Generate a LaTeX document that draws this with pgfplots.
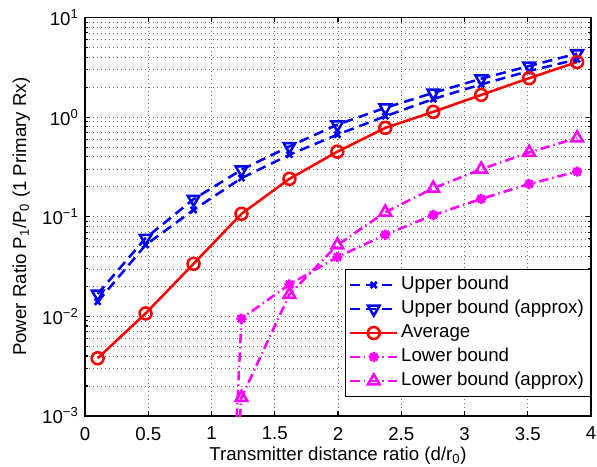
\documentclass[border=0pt]{standalone}
\usepackage{fontspec}
\setmainfont{Liberation Sans}
\usepackage{pgfplots}
\pgfplotsset{compat=1.18}

\definecolor{mblue}{rgb}{0,0,1}
\definecolor{mred}{rgb}{1,0,0}
\definecolor{mmag}{rgb}{1,0,1}

% matlab's '*' marker: a plus and a cross on top of each other
\pgfdeclareplotmark{mstar}{%
  \pgfpathmoveto{\pgfqpoint{-\pgfplotmarksize}{0pt}}%
  \pgfpathlineto{\pgfqpoint{\pgfplotmarksize}{0pt}}%
  \pgfpathmoveto{\pgfqpoint{0pt}{-\pgfplotmarksize}}%
  \pgfpathlineto{\pgfqpoint{0pt}{\pgfplotmarksize}}%
  \pgfpathmoveto{\pgfqpoint{-.707\pgfplotmarksize}{-.707\pgfplotmarksize}}%
  \pgfpathlineto{\pgfqpoint{.707\pgfplotmarksize}{.707\pgfplotmarksize}}%
  \pgfpathmoveto{\pgfqpoint{-.707\pgfplotmarksize}{.707\pgfplotmarksize}}%
  \pgfpathlineto{\pgfqpoint{.707\pgfplotmarksize}{-.707\pgfplotmarksize}}%
  \pgfusepathqstroke}

\begin{document}
\fontsize{14}{17}\selectfont
\begin{tikzpicture}
% page = 597 x 467 px at 0.75pt per px; axis box from (85,17.5) to (591,416)
\path[use as bounding box] (-63.75pt,-38.25pt) rectangle (384pt,312pt);
\begin{axis}[
    at={(0pt,0pt)}, anchor=south west,
    scale only axis, width=379.5pt, height=298.9pt,
    xmin=0, xmax=4,
    ymode=log, ymin=1e-3, ymax=10,
    xtick={0,0.5,1,1.5,2,2.5,3,3.5,4},
    xticklabels={0,0.5,1,1.5,2,2.5,3,3.5,4},
    ytick={0.001,0.01,0.1,1,10},
    yticklabels={10\textsuperscript{−3},10\textsuperscript{−2},10\textsuperscript{−1},10\textsuperscript{0},10\textsuperscript{1}},
    minor ytick={0.002,0.003,0.004,0.005,0.006,0.007,0.008,0.009,
                 0.02,0.03,0.04,0.05,0.06,0.07,0.08,0.09,
                 0.2,0.3,0.4,0.5,0.6,0.7,0.8,0.9,
                 2,3,4,5,6,7,8,9},
    grid=both,
    major grid style={black!60, line width=0.5pt, dash pattern=on 0.75pt off 2.25pt},
    minor grid style={black!60, line width=0.5pt, dash pattern=on 0.75pt off 2.25pt},
    axis line style={black, line width=1pt},
    tick style={black, line width=0.8pt},
    major tick length=3.75pt, minor tick length=2.2pt,
    xticklabel style={yshift=-3.5pt},
    xlabel={Transmitter distance ratio (d/r\textsubscript{0})},
    xlabel style={at={(axis description cs:0.5,-0.112)}, anchor=base},
    ylabel={Power Ratio P\textsubscript{1}/P\textsubscript{0} (1 Primary Rx)},
    ylabel style={at={(axis description cs:-0.1166,0.5)}, anchor=base, rotate=0},
    every axis plot/.append style={line width=1.9pt},
    legend style={at={(axis description cs:1,0.048)}, anchor=south east,
      draw=black, line width=0.8pt, fill=white,
      inner xsep=3pt, inner ysep=2.5pt, row sep=0pt,
      nodes={inner xsep=2pt, inner ysep=2pt, text height=10.5pt, text depth=3.5pt},
      /tikz/every even column/.append style={column sep=0.5pt}},
    legend cell align=left,
    legend image code/.code={%
      \draw[mark repeat=2, mark phase=2, #1]
        plot coordinates {(0pt,0pt) (17.6pt,0pt) (35.2pt,0pt)};},
  ]

  % upper bound
  \addplot[mblue, dash pattern=on 7.5pt off 4.5pt, mark=x, mark size=3.2pt, mark options={solid}]
    coordinates {(0.1,0.0140) (0.479,0.052) (0.858,0.117) (1.237,0.244) (1.616,0.419)
                 (1.995,0.667) (2.374,1.02) (2.753,1.52) (3.132,2.13) (3.511,2.90) (3.89,3.80)};
  % upper bound (approx)
  \addplot[mblue, dash pattern=on 7.5pt off 4.5pt, mark=triangle, mark size=5pt, mark options={solid, rotate=180}]
    coordinates {(0.1,0.0168) (0.479,0.061) (0.858,0.150) (1.237,0.296) (1.616,0.508)
                 (1.995,0.84) (2.374,1.24) (2.753,1.75) (3.132,2.43) (3.511,3.26) (3.89,4.34)};
  % average
  \addplot[mred, solid, mark=o, mark size=4.5pt]
    coordinates {(0.1,0.0038) (0.479,0.0107) (0.858,0.0337) (1.237,0.107) (1.616,0.24)
                 (1.995,0.45) (2.374,0.78) (2.753,1.13) (3.132,1.67) (3.511,2.46) (3.89,3.57)};
  % lower bound (first point is off the bottom of the axis)
  \addplot[mmag, dash pattern=on 7pt off 3pt on 1pt off 3pt, mark=mstar, mark size=3.8pt, mark options={solid}]
    coordinates {(0.858,1e-12) (1.237,0.0095) (1.616,0.0209) (1.995,0.0394) (2.374,0.066)
                 (2.753,0.104) (3.132,0.151) (3.511,0.213) (3.89,0.284)};
  % lower bound (approx)
  \addplot[mmag, dash pattern=on 7pt off 3pt on 1pt off 3pt, mark=triangle, mark size=5pt, mark options={solid}]
    coordinates {(0.858,1e-9) (1.237,0.00153) (1.616,0.0166) (1.995,0.052) (2.374,0.111)
                 (2.753,0.193) (3.132,0.300) (3.511,0.442) (3.89,0.617)};

  \legend{Upper bound, Upper bound (approx), Average, Lower bound, Lower bound (approx)}
\end{axis}
\end{tikzpicture}
\end{document}
